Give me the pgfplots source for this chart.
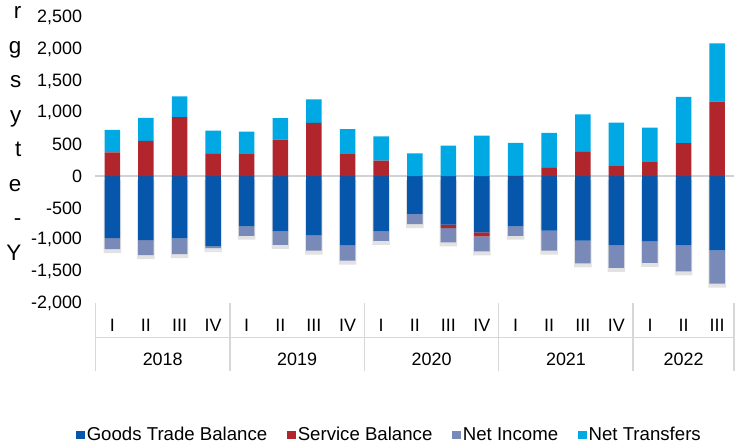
\documentclass[border=0pt]{standalone}
\usepackage{fontspec}
\setmainfont{Liberation Sans}
\usepackage{pgfplots}
\usepackage{pgfplotstable}
\pgfplotsset{compat=1.18}
\definecolor{goods}{RGB}{6,86,172}
\definecolor{serv}{RGB}{176,38,44}
\definecolor{income}{RGB}{122,138,184}
\definecolor{trans}{RGB}{0,168,228}
\definecolor{zerogray}{RGB}{210,210,210}
\definecolor{sepgray}{RGB}{215,215,215}
\definecolor{shadowgray}{RGB}{226,226,226}
\newcommand{\fs}[1]{\fontsize{#1}{#1}\selectfont}

\pgfplotstableread{
idx goods servneg income servpos trans
0  -976   0  -174  376  354
1  -1007  0  -237  555  364
2  -982   0  -247  929  326
3  -1109  0  -25   350  368
4  -793   0  -147  360  343
5  -872   0  -210  576  337
6  -929   0  -247  840  368
7  -1087  0  -247  360  379
8  -872   0  -148  245  383
9  -597   0  -158  0    360
10 -766  -52 -227  0    482
11 -887  -63 -237  0    640
12 -793   0  -147  5    519
13 -861   0  -315  129  553
14 -1015  0  -360  383  590
15 -1092  0  -354  158  686
16 -1026  0  -343  221  545
17 -1092  0  -408  521  726
18 -1171  0  -522  1176 916
}\data

\pgfplotsset{
  basegeom/.style={
    at={(0pt,0pt)}, anchor=south west,
    scale only axis, width=638.5bp, height=285.5bp,
    xmin=-0.5, xmax=18.5, ymin=-2000, ymax=2500,
    ybar stacked, bar width=15.5bp,
  },
}

\begin{document}
\begin{tikzpicture}
\useasboundingbox (-95.5bp,-143bp) rectangle (641.5bp,303bp);

% fragments of neighbouring text, cut by the crop
\foreach \t [count=\i from 0] in {r,g,s,y,t,e,-,Y} {
  \node[anchor=base east, inner sep=0, font=\fs{22.5}] at (21.5bp-95.5bp, 303bp-19bp-34.5bp*\i) {\t};
}

% shadow axis (negative stacks)
\begin{axis}[basegeom, hide axis, bar width=17.5bp]
  \addplot[fill=shadowgray, draw=none, transform canvas={yshift=-4bp}] table[x=idx,y=goods]{\data};
  \addplot[fill=shadowgray, draw=none, transform canvas={yshift=-4bp}] table[x=idx,y=servneg]{\data};
  \addplot[fill=shadowgray, draw=none, transform canvas={yshift=-4bp}] table[x=idx,y=income]{\data};
\end{axis}

% main axis: negative stack + decorations
\begin{axis}[basegeom,
  axis line style={draw=none},
  tick pos=left,
  major tick length=0pt,
  scaled y ticks=false,
  ytick={-2000,-1500,...,2500},
  /pgf/number format/1000 sep={,},
  /pgf/number format/assume math mode=true,
  yticklabel style={font=\fs{18}, xshift=-10bp},
  xtick={0,...,18},
  xticklabels={I,II,III,IV,I,II,III,IV,I,II,III,IV,I,II,III,IV,I,II,III},
  xticklabel style={font=\fs{18}, anchor=base, yshift=-28bp},
  extra x ticks={-0.5,3.5,7.5,11.5,15.5,18.5},
  extra x tick labels={},
  extra x tick style={major tick length=68bp, tick align=outside,
     xtick style={draw=sepgray, line width=1.4bp}},
  extra y ticks={0},
  extra y tick labels={},
  extra y tick style={grid=major, major grid style={draw=zerogray, line width=2bp}},
  clip=false,
  legend columns=4,
  legend style={draw=none, fill=none, font=\fs{18.7},
    at={(axis description cs:0.4605,-0.4606)}, anchor=center,
    /tikz/every odd column/.append style={column sep=0bp},
    /tikz/every even column/.append style={column sep=18bp}},
  legend image code/.code={\fill[#1] (0bp,-4.5bp) rectangle (8.5bp,4bp);},
]
  \addplot[fill=goods, draw=none, forget plot] table[x=idx,y=goods]{\data};
  \addplot[fill=serv, draw=none, forget plot] table[x=idx,y=servneg]{\data};
  \addplot[fill=income, draw=none, forget plot] table[x=idx,y=income]{\data};
  \addlegendimage{fill=goods, draw=none}
  \addlegendentry{\strut Goods Trade Balance}
  \addlegendimage{fill=serv, draw=none}
  \addlegendentry{\strut Service Balance}
  \addlegendimage{fill=income, draw=none}
  \addlegendentry{\strut Net Income}
  \addlegendimage{fill=trans, draw=none}
  \addlegendentry{\strut Net Transfers}
  \draw[draw=sepgray, line width=1bp] ([yshift=-34bp]rel axis cs:0,0) -- ([yshift=-34bp]rel axis cs:1,0);
  \node[anchor=base, font=\fs{18}, yshift=-62bp] at (axis cs:1.5,-2000) {2018};
  \node[anchor=base, font=\fs{18}, yshift=-62bp] at (axis cs:5.5,-2000) {2019};
  \node[anchor=base, font=\fs{18}, yshift=-62bp] at (axis cs:9.5,-2000) {2020};
  \node[anchor=base, font=\fs{18}, yshift=-62bp] at (axis cs:13.5,-2000) {2021};
  \node[anchor=base, font=\fs{18}, yshift=-62bp] at (axis cs:17,-2000) {2022};
\end{axis}

% positive stack
\begin{axis}[basegeom, hide axis]
  \addplot[fill=serv, draw=none] table[x=idx,y=servpos]{\data};
  \addplot[fill=trans, draw=none] table[x=idx,y=trans]{\data};
\end{axis}
\end{tikzpicture}
\end{document}
